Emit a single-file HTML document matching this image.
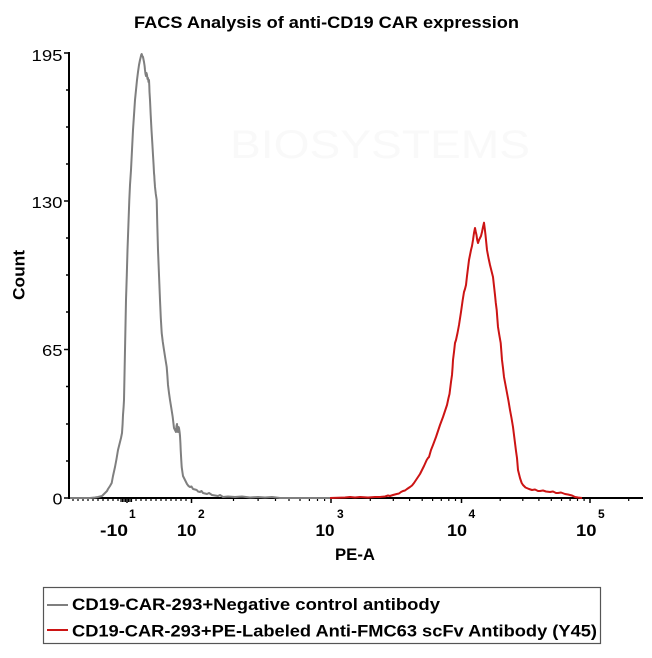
<!DOCTYPE html>
<html>
<head>
<meta charset="utf-8">
<style>
html,body{margin:0;padding:0;background:#fff;}
svg{display:block;}
text{font-family:"Liberation Sans",sans-serif;fill:#000;}
</style>
</head>
<body>
<svg width="652" height="658" viewBox="0 0 652 658" xmlns="http://www.w3.org/2000/svg">
<rect width="652" height="658" fill="#fff"/>
<text x="230" y="158" font-size="40" style="fill:#f9f9f9" textLength="300" lengthAdjust="spacingAndGlyphs">BIOSYSTEMS</text>

<text x="134" y="28" font-size="17" font-weight="bold" textLength="385" lengthAdjust="spacingAndGlyphs">FACS Analysis of anti-CD19 CAR expression</text>

<line x1="69" y1="52" x2="69" y2="499" stroke="#000" stroke-width="2"/>
<g stroke="#000" stroke-width="1.5">
<line x1="64" y1="53" x2="69" y2="53"/>
<line x1="64" y1="201" x2="69" y2="201"/>
<line x1="64" y1="349.5" x2="69" y2="349.5"/>
<line x1="64" y1="498" x2="69" y2="498"/>
<line x1="66" y1="90" x2="69" y2="90"/>
<line x1="66" y1="127" x2="69" y2="127"/>
<line x1="66" y1="164" x2="69" y2="164"/>
<line x1="66" y1="238" x2="69" y2="238"/>
<line x1="66" y1="275" x2="69" y2="275"/>
<line x1="66" y1="312" x2="69" y2="312"/>
<line x1="66" y1="386.5" x2="69" y2="386.5"/>
<line x1="66" y1="424" x2="69" y2="424"/>
<line x1="66" y1="461" x2="69" y2="461"/>
</g>
<text x="31.5" y="61" font-size="15.5" textLength="31" lengthAdjust="spacingAndGlyphs">195</text>
<text x="31.5" y="208" font-size="15.5" textLength="31" lengthAdjust="spacingAndGlyphs">130</text>
<text x="42" y="356" font-size="15.5" textLength="20.5" lengthAdjust="spacingAndGlyphs">65</text>
<text x="52.5" y="504.5" font-size="15.5" textLength="10" lengthAdjust="spacingAndGlyphs">0</text>
<text transform="translate(24.5,300) rotate(-90)" x="0" y="0" font-size="16.5" font-weight="bold" textLength="50" lengthAdjust="spacingAndGlyphs">Count</text>

<line x1="68" y1="498" x2="643" y2="498" stroke="#000" stroke-width="2"/>
<g stroke="#000" stroke-width="1.5">
<line x1="127" y1="498" x2="127" y2="503"/>
<line x1="191.5" y1="498" x2="191.5" y2="503"/>
<line x1="331" y1="498" x2="331" y2="503"/>
<line x1="461.5" y1="498" x2="461.5" y2="503"/>
<line x1="590" y1="498" x2="590" y2="503"/>
</g>
<g stroke="#000" stroke-width="1.2">
<line x1="73" y1="498" x2="73" y2="501"/>
<line x1="78" y1="498" x2="78" y2="501"/>
<line x1="83" y1="498" x2="83" y2="501"/>
<line x1="88" y1="498" x2="88" y2="501"/>
<line x1="93" y1="498" x2="93" y2="501"/>
<line x1="98" y1="498" x2="98" y2="501"/>
<line x1="103" y1="498" x2="103" y2="501"/>
<line x1="108" y1="498" x2="108" y2="501"/>
<line x1="113" y1="498" x2="113" y2="501"/>
<line x1="118" y1="498" x2="118" y2="501"/>
<line x1="121" y1="498" x2="121" y2="502"/>
<line x1="122.5" y1="498" x2="122.5" y2="502"/>
<line x1="124" y1="498" x2="124" y2="502"/>
<line x1="125.5" y1="498" x2="125.5" y2="502"/>
<line x1="128.5" y1="498" x2="128.5" y2="502"/>
<line x1="130" y1="498" x2="130" y2="502"/>
<line x1="131.5" y1="498" x2="131.5" y2="502"/>
<line x1="136" y1="498" x2="136" y2="501"/>
<line x1="141" y1="498" x2="141" y2="501"/>
<line x1="146" y1="498" x2="146" y2="501"/>
<line x1="151" y1="498" x2="151" y2="501"/>
<line x1="156" y1="498" x2="156" y2="501"/>
<line x1="161" y1="498" x2="161" y2="501"/>
<line x1="166" y1="498" x2="166" y2="501"/>
<line x1="171" y1="498" x2="171" y2="501"/>
<line x1="176" y1="498" x2="176" y2="501"/>
<line x1="181" y1="498" x2="181" y2="501"/>
<line x1="186" y1="498" x2="186" y2="501"/>
<line x1="233.5" y1="498" x2="233.5" y2="501"/>
<line x1="258.1" y1="498" x2="258.1" y2="501"/>
<line x1="275.5" y1="498" x2="275.5" y2="501"/>
<line x1="289" y1="498" x2="289" y2="501"/>
<line x1="300" y1="498" x2="300" y2="501"/>
<line x1="309.4" y1="498" x2="309.4" y2="501"/>
<line x1="317.5" y1="498" x2="317.5" y2="501"/>
<line x1="324.6" y1="498" x2="324.6" y2="501"/>
<line x1="370.3" y1="498" x2="370.3" y2="501"/>
<line x1="393.3" y1="498" x2="393.3" y2="501"/>
<line x1="409.6" y1="498" x2="409.6" y2="501"/>
<line x1="422.2" y1="498" x2="422.2" y2="501"/>
<line x1="432.6" y1="498" x2="432.6" y2="501"/>
<line x1="441.3" y1="498" x2="441.3" y2="501"/>
<line x1="448.8" y1="498" x2="448.8" y2="501"/>
<line x1="455.5" y1="498" x2="455.5" y2="501"/>
<line x1="500.2" y1="498" x2="500.2" y2="501"/>
<line x1="522.8" y1="498" x2="522.8" y2="501"/>
<line x1="538.9" y1="498" x2="538.9" y2="501"/>
<line x1="551.3" y1="498" x2="551.3" y2="501"/>
<line x1="561.5" y1="498" x2="561.5" y2="501"/>
<line x1="570.1" y1="498" x2="570.1" y2="501"/>
<line x1="577.5" y1="498" x2="577.5" y2="501"/>
<line x1="584.1" y1="498" x2="584.1" y2="501"/>
<line x1="628.7" y1="498" x2="628.7" y2="501"/>
</g>

<text x="100" y="536" font-size="16.5" font-weight="bold" textLength="28" lengthAdjust="spacingAndGlyphs">-10</text>
<text x="129" y="518" font-size="12" font-weight="bold">1</text>
<text x="177" y="536" font-size="16.5" font-weight="bold" textLength="19.5" lengthAdjust="spacingAndGlyphs">10</text>
<text x="198" y="518" font-size="12" font-weight="bold">2</text>
<text x="315.5" y="536" font-size="16.5" font-weight="bold" textLength="19" lengthAdjust="spacingAndGlyphs">10</text>
<text x="337" y="518" font-size="12" font-weight="bold">3</text>
<text x="447" y="536" font-size="16.5" font-weight="bold" textLength="20" lengthAdjust="spacingAndGlyphs">10</text>
<text x="468.5" y="518" font-size="12" font-weight="bold">4</text>
<text x="576" y="536" font-size="16.5" font-weight="bold" textLength="20.5" lengthAdjust="spacingAndGlyphs">10</text>
<text x="598" y="518" font-size="12" font-weight="bold">5</text>
<text x="335" y="560" font-size="16.5" font-weight="bold" textLength="40" lengthAdjust="spacingAndGlyphs">PE-A</text>

<polyline fill="none" stroke="#7f7f7f" stroke-width="2" stroke-linejoin="round" points="70,498 90,498 95,497.5 98,497 100,496.5 102,496 104,494 105,493 107,491 108,489 110,486 111.7,483 113,476 115,467 116.5,459 118,450 119,446 120,442 121,438 122,433 122.6,424 123,415 123.6,407 124,400 124.5,375 125,350 125.5,325 126,300 126.8,275 127.5,250 128.4,225 129.3,200 130,185 131,170 132,150 133,130 134,115 135,100 136,90 137,80 138,72 139,65 140,60 140.5,58 141.2,55 141.7,54 142.3,56 143,57 143.6,60 144,62 144.6,66 145,70 145.5,74 146,76 146.5,73 147,75 147.5,79 148,78 148.5,82 149,80 149.3,86 149.5,92 150,100 150.7,115 151.5,130 152.3,143 153,155 153.6,165 154,173 154.3,176 154.5,180 154.8,184 155,187 155.8,194 156.7,200 157.3,225 158,250 159,275 160,300 160.8,318 161.7,333 162.8,342 164,350 165.4,359 166.7,367 167.4,376 168,385 169,393 170,400 171.3,408 172.7,417 173.4,423 174,428 175,430 176,432 176.5,426 177,424 177.5,430 178,432 178.5,427 179,428 179.6,432 180,436 180.4,443 180.7,450 181.2,459 181.7,467 182.4,472 183,476 184,478 185,480 186,482 187,484 188.5,486 190,487 191.5,486.5 193,489 195,489.5 196.7,490 198,491.5 200,492 201.5,491 203,493 205,493.5 207,494 209,493 212,495 215,495.5 218,496 220,495 223,497 228,496.5 235,497 242,496.5 250,497.5 258,497 265,497.5 272,497 280,498 300,498 330,498"/>

<polyline fill="none" stroke="#cc1414" stroke-width="2" stroke-linejoin="round" points="330,498 345,497.5 350,497 355,497.5 360,497 368,497.5 375,497 380,497 385,496.5 388,495.5 390,496 393,495 396.7,494 399,493.5 401,492 403,491 405,490.5 407,489 410,487 412,485.5 414,483 416,480 418,477 420,474 422,470 424,466 426.7,460 428,458 429,457 431,450 433,445 434.5,441 436,437 438,431 440,425 441.5,421 443,417 445,411 447,405 448.5,398 449.5,394 450,390 451,382 452,375 452.6,367 453,360 454,352 455,343 456,340 457.5,333 459,325 461,312 462.7,300 464,292 465,289 466,285 467,276 468,268 469,260 470,255 471,250 472,246 473,240 474,233 475,228 475.8,232 476.5,235 477.2,240 478,243 479,240 480,238 481,236 482,232 483,227 484,222.7 484.8,229 485.5,235 486.3,243 487,250 488.5,258 490,265 491.5,271 493,277 494,286 495,295 495.8,303 496.7,310 497.3,318 498,327 499.3,335 500.7,343 501.4,352 502,360 503,368 504,377 505.5,385 507,393 508.5,401 510,410 511.5,418 513,427 514,435 515,443 516,451 517,458 517.5,464 518,470 519,474 520,478 521,481 521.7,483 523,485 524,486 525.5,487.5 526.7,488 529,489 532,490 535,489.5 538,491 540,491 543,490.5 546,491.5 550,492 553,491.5 556,493 558,493 561,492.5 565,494 568,494.5 570,495 572,495.5 575,497 578,497.5 582,498"/>

<rect x="43.5" y="587.5" width="557" height="56" fill="none" stroke="#555" stroke-width="1.2"/>
<line x1="47" y1="605" x2="68" y2="605" stroke="#7f7f7f" stroke-width="2"/>
<text x="72" y="610" font-size="16.5" font-weight="bold" textLength="368" lengthAdjust="spacingAndGlyphs">CD19-CAR-293+Negative control antibody</text>
<line x1="47" y1="630" x2="68" y2="630" stroke="#cc1414" stroke-width="2"/>
<text x="72" y="636.5" font-size="16.5" font-weight="bold" textLength="525" lengthAdjust="spacingAndGlyphs">CD19-CAR-293+PE-Labeled Anti-FMC63 scFv Antibody (Y45)</text>
</svg>
</body>
</html>
